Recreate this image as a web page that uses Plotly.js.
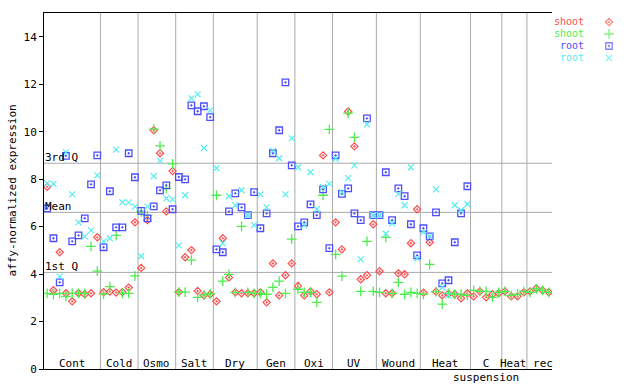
<!DOCTYPE html>
<html><head><meta charset="utf-8">
<script src="https://cdn.plot.ly/plotly-3.0.1.min.js"></script>
<style>html,body{margin:0;padding:0;background:#fff}</style>
</head><body><div id="chart" style="width:640px;height:384px"></div>
<script>
// ---- data ----
const groupSizes = [9, 6, 6, 6, 7, 6, 6, 7, 7, 8, 5, 4, 4];
const groupLabels = ['Cont', 'Cold', 'Osmo', 'Salt', 'Dry', 'Gen', 'Oxi', 'UV', 'Wound', 'Heat', 'C<br>suspension', 'Heat rec'];
const labelSpans = [9, 6, 6, 6, 7, 6, 6, 7, 7, 8, 5, 8];
const seriesNames = ['shoot', 'shoot', 'root', 'root'];
const seriesColors = ['#ff4d4d', '#4dee4d', '#4d4dff', '#55eeee'];
const refValues = [8.67, 6.60, 4.07];
const refLabels = ['3rd Q', 'Mean', '1st Q'];
const yTicks = [0, 2, 4, 6, 8, 10, 12, 14];

const shootRed = [7.68,3.32,4.92,3.19,2.85,3.19,3.15,3.19,5.55,
  3.24,3.26,3.22,3.24,3.43,6.18,
  4.26,6.27,10.06,9.09,6.64,8.34,
  3.24,4.71,5.01,3.29,3.10,3.15,
  2.85,5.51,3.86,3.23,3.19,3.19,3.19,
  3.23,2.81,4.45,3.10,3.95,4.45,
  3.50,3.10,3.27,3.15,9.00,3.23,
  6.18,5.04,10.85,9.38,3.78,3.95,6.10,
  4.12,3.19,3.19,4.03,3.99,5.30,6.73,
  3.22,5.34,3.26,3.10,3.17,3.15,2.98,3.19,
  3.06,3.27,3.02,3.15,3.19,
  3.27,3.06,3.06,3.23,
  3.27,3.40,3.31,3.23];
const shootGreen = [3.19,3.15,3.19,3.06,3.19,3.19,3.19,5.17,4.12,
  3.16,3.47,5.63,3.19,3.19,3.92,
  6.62,6.46,10.11,9.40,7.61,8.64,
  3.24,3.24,4.59,3.02,3.12,3.17,
  7.32,3.70,3.99,3.23,6.01,3.23,3.19,
  3.19,3.15,3.44,3.70,3.19,5.47,
  3.36,3.23,3.23,2.81,7.32,10.10,
  4.83,3.91,10.78,9.76,3.27,5.38,3.27,
  3.23,5.55,3.19,3.65,3.15,3.23,3.19,
  3.15,4.41,3.26,2.73,3.19,3.15,3.15,3.10,
  3.31,3.27,3.27,3.02,3.23,
  3.27,3.10,3.15,3.27,
  3.23,3.38,3.31,3.23];
const rootBlue = [6.77,5.51,3.65,8.98,5.38,5.63,6.35,7.78,9.00,
  5.13,7.49,5.97,5.97,9.09,8.08,
  6.66,6.35,6.85,7.53,7.74,6.73,
  8.09,7.99,11.11,10.86,11.07,10.61,
  5.04,4.92,6.64,7.40,6.81,6.48,7.45,
  5.93,6.56,9.09,10.06,12.08,8.58,
  6.01,6.18,6.94,6.48,7.57,5.09,
  9.00,7.38,7.61,6.56,6.27,10.56,6.48,
  6.48,8.29,6.27,7.61,7.28,6.10,4.79,
  5.93,5.59,6.60,3.61,3.74,5.34,6.56,7.70,
  null,null,null,null,null,
  null,null,null,null,
  null,null,null,null];
const rootCyan = [7.82,7.80,3.89,9.13,7.36,6.18,5.59,5.84,8.16,
  5.38,5.51,9.24,7.02,7.02,6.84,
  4.75,6.84,8.13,8.77,7.19,7.15,
  5.21,7.32,11.40,11.57,9.31,10.90,
  8.46,5.30,7.28,6.90,7.53,6.48,6.06,
  7.36,6.81,9.19,8.88,7.36,9.72,
  8.50,6.06,8.29,6.73,7.66,7.80,
  8.86,7.45,8.04,8.58,4.62,10.31,6.48,
  6.48,5.70,6.14,7.38,6.90,8.50,4.66,
  5.76,5.59,7.57,3.44,3.10,6.90,6.69,6.94,
  null,null,null,null,null,
  null,null,null,null,
  null,null,null,null];

// ---- build ----
const nSlots = shootRed.length;
const slots = shootRed.map((_, i) => i);
const allSeries = [shootRed, shootGreen, rootBlue, rootCyan];
const symbols = ['diamond-open-dot', 'cross-thin-open', 'square-open-dot', 'x-thin-open'];
const sizes = [5.5, 7, 6.5, 6];
const lineW = [1.2, 1.3, 1.3, 1.2];

const traces = allSeries.map((ys, k) => ({
  type: 'scatter', mode: 'markers', x: slots, y: ys, name: seriesNames[k],
  xaxis: 'x', yaxis: 'y', hoverinfo: 'skip', showlegend: false,
  marker: {symbol: symbols[k], size: sizes[k], color: seriesColors[k],
           line: {color: seriesColors[k], width: lineW[k]}}
}));
// legend markers on a small helper axis
traces.push({
  type: 'scatter', mode: 'markers', xaxis: 'x3', yaxis: 'y3',
  x: seriesNames.map(() => 29), y: seriesNames.map((_, i) => i),
  hoverinfo: 'skip', showlegend: false,
  marker: {symbol: symbols, size: sizes, color: seriesColors,
           line: {color: seriesColors, width: lineW}}
});

const shapes = [];
const annotations = [];
const font = {family: 'DejaVu Sans Mono, monospace', size: 11, color: '#000'};
// group dividers
let acc = 0;
groupSizes.forEach((s, i) => {
  acc += s;
  if (i < groupSizes.length - 1) {
    shapes.push({type: 'line', layer: 'below', xref: 'x', yref: 'y',
      x0: acc - 0.5, x1: acc - 0.5, y0: 0, y1: 15,
      line: {color: '#aaaaaa', width: 1}});
  }
});
// group labels
acc = 0;
groupLabels.forEach((lab, i) => {
  const c = acc + (labelSpans[i] - 1) / 2;
  acc += labelSpans[i];
  annotations.push({xref: 'x', yref: 'y', x: c, y: 0, yanchor: 'top', xanchor: 'center',
    yshift: 13, text: lab, showarrow: false, font: font, borderpad: 0});
});
// reference lines
refValues.forEach((v, i) => {
  shapes.push({type: 'line', layer: 'below', xref: 'x', yref: 'y',
    x0: -0.5, x1: nSlots - 0.5, y0: v, y1: v, line: {color: '#aaaaaa', width: 1}});
  annotations.push({xref: 'x', yref: 'y', x: -0.5, y: v, xanchor: 'left', yanchor: 'bottom',
    xshift: 0, yshift: -2, text: refLabels[i], showarrow: false, font: font, borderpad: 0});
});
// legend labels
const legendFont = {family: 'DejaVu Sans Mono, monospace', size: 10};
seriesNames.forEach((n, i) => {
  annotations.push({xref: 'x3', yref: 'y3', x: 5, y: i, xanchor: 'right', yanchor: 'middle',
    text: n, showarrow: false, font: Object.assign({}, legendFont, {color: seriesColors[i]}), borderpad: 0});
});
// y title
annotations.push({xref: 'paper', yref: 'paper', x: (11.5 - 44) / 586, y: 0.5, xanchor: 'center', yanchor: 'middle',
  textangle: -90, text: 'affy-normalized expression', showarrow: false, font: font});

const plotW = 586, mainW = 508;
const layout = {
  width: 640, height: 384,
  margin: {l: 44, r: 10, t: 13, b: 15, pad: 0},
  paper_bgcolor: '#fff', plot_bgcolor: '#fff',
  showlegend: false, font: font,
  xaxis: {domain: [0, mainW / plotW], range: [-0.5, nSlots - 0.5], showgrid: false, zeroline: false,
    showticklabels: false, ticks: '', showline: true, mirror: true, linecolor: '#000', linewidth: 1,
    fixedrange: true},
  yaxis: {domain: [0, 1], range: [0, 15], tickvals: yTicks, ticks: 'outside', ticklen: 4, tickcolor: '#000',
    showgrid: false, zeroline: false, showline: true, linecolor: '#000', linewidth: 1, tickfont: font,
    fixedrange: true},
  yaxis2: {overlaying: 'y', side: 'right', anchor: 'x', range: [0, 15], tickvals: yTicks.slice(1),
    ticks: 'inside', ticklen: 5, tickcolor: '#000', showticklabels: false, showgrid: false,
    zeroline: false, showline: true, linecolor: '#000', linewidth: 1, fixedrange: true},
  xaxis3: {domain: [(580 - 44) / plotW, (620 - 44) / plotW], range: [0, 40], anchor: 'y3', visible: false},
  yaxis3: {domain: [1 - (64 - 13) / 356, 1 - (16 - 13) / 356], range: [3.5, -0.5], anchor: 'x3', visible: false},
  shapes: shapes, annotations: annotations
};
Plotly.newPlot('chart', traces, layout, {displayModeBar: false, staticPlot: true});
</script></body></html>
